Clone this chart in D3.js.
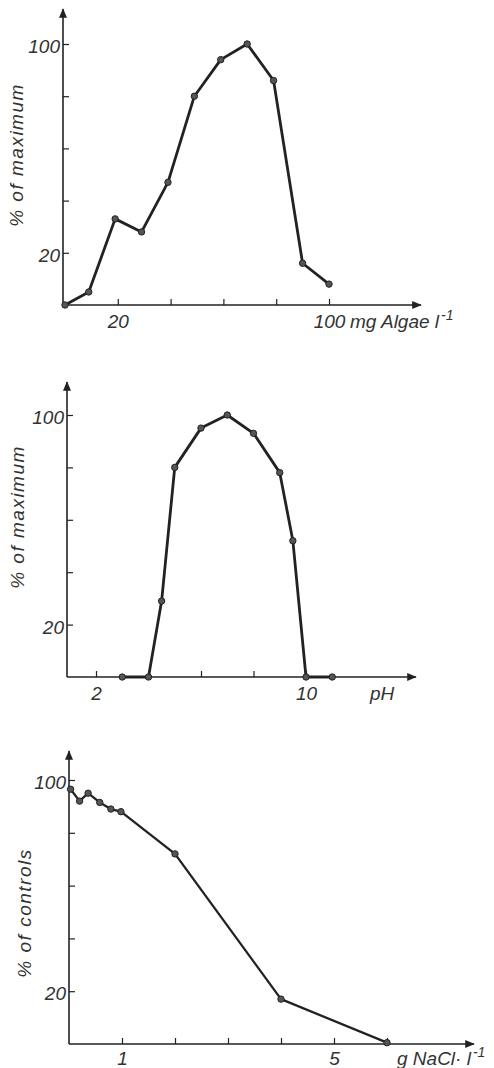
<!DOCTYPE html>
<html>
<head>
<meta charset="utf-8">
<script src="https://cdn.jsdelivr.net/npm/d3@7"></script>
<style>
  body { margin: 0; background: #fff; }
  svg text { font-family: "Liberation Sans", "DejaVu Sans", sans-serif; font-style: italic; fill: #333; }
</style>
</head>
<body>
<svg id="fig" width="494" height="1068"></svg>
<script>
// panel 1: algae concentration
var algaeX = [0, 9, 19, 29, 39, 49, 59, 69, 79, 90, 100];
var algaeY = [0, 5, 33, 28, 47, 80, 94, 100, 86, 16, 8];
var algaeTicks = [20, 40, 60, 80, 100];
var algaeLabels = [20, 100];

// panel 2: pH
var phX = [3, 4, 4.5, 5, 6, 7, 8, 9, 9.5, 10, 11];
var phY = [0, 0, 29, 80, 95, 100, 93, 78, 52, 0, 0];
var phTicks = [2, 4, 6, 8, 10];
var phLabels = [2, 10];

// panel 3: salinity
var naclX = [0.03, 0.2, 0.36, 0.58, 0.79, 0.98, 2, 4, 6];
var naclY = [96.5, 92, 95, 91.5, 89, 88, 72, 17, 0.5];
var naclTicks = [1, 2, 3, 4, 5, 6];
var naclLabels = [1, 5];

var yTicks = [20, 40, 60, 80, 100];
var yLabels = [20, 100];

var svg = d3.select("#fig");
var ink = "#222";
var fs = 19;

svg.append("defs").append("marker")
    .attr("id", "arrow")
    .attr("viewBox", "0 0 12 10")
    .attr("refX", 11).attr("refY", 5)
    .attr("markerWidth", 12).attr("markerHeight", 8)
    .attr("markerUnits", "userSpaceOnUse")
    .attr("orient", "auto")
    .append("path")
    .attr("d", "M0,0L12,5L0,10z")
    .attr("fill", ink);

function panel(cfg) {
    var x = d3.scaleLinear().domain(cfg.xDomain).range(cfg.xRange);
    var y = d3.scaleLinear().domain([0, 100]).range([cfg.y0, cfg.y100]);
    var g = svg.append("g");

    // axes with arrow heads
    g.append("line")
        .attr("x1", cfg.axisX).attr("y1", cfg.y0)
        .attr("x2", cfg.axisX).attr("y2", cfg.yTop)
        .attr("stroke", ink).attr("stroke-width", 1.6)
        .attr("marker-end", "url(#arrow)");
    g.append("line")
        .attr("x1", cfg.axisX).attr("y1", cfg.y0)
        .attr("x2", cfg.xEnd).attr("y2", cfg.y0)
        .attr("stroke", ink).attr("stroke-width", 1.6)
        .attr("marker-end", "url(#arrow)");

    var ax = g.append("g")
        .attr("transform", "translate(0," + cfg.y0 + ")")
        .call(d3.axisBottom(x).tickValues(cfg.xTicks).tickSize(-6).tickPadding(cfg.xPad)
            .tickFormat(function(d) { return cfg.xLabels.indexOf(d) >= 0 ? d : ""; }));
    ax.select(".domain").remove();

    var ay = g.append("g")
        .attr("transform", "translate(" + cfg.axisX + ",0)")
        .call(d3.axisLeft(y).tickValues(yTicks).tickSize(-6).tickPadding(3)
            .tickFormat(function(d) { return yLabels.indexOf(d) >= 0 ? d : ""; }));
    ay.select(".domain").remove();
    ay.selectAll(".tick text").attr("dy", "0.45em");

    g.selectAll(".tick line").attr("stroke", ink).attr("stroke-width", 1.2);
    g.selectAll(".tick text").attr("font-size", fs).attr("font-family", null).attr("fill", null);

    g.append("text")
        .attr("transform", "translate(" + cfg.titleX + "," + cfg.titleY + ") rotate(-90)")
        .attr("text-anchor", "middle")
        .attr("font-size", fs)
        .attr("letter-spacing", 1.5)
        .text(cfg.yTitle);

    var unit = g.append("text")
        .attr("x", cfg.unitX).attr("y", cfg.y0 + cfg.xPad + 13.5)
        .attr("font-size", fs)
        .text(cfg.unit);
    if (cfg.sup) {
        unit.append("tspan").attr("dy", -8).attr("dx", 2).attr("font-size", 14).text(cfg.sup);
    }

    var pts = cfg.xs.map(function(d, i) { return [d, cfg.ys[i]]; });
    g.append("path")
        .datum(pts)
        .attr("fill", "none")
        .attr("stroke", ink)
        .attr("stroke-width", cfg.lw)
        .attr("stroke-linejoin", "round")
        .attr("d", d3.line()
            .x(function(d) { return x(d[0]); })
            .y(function(d) { return y(d[1]); }));

    g.selectAll("circle")
        .data(pts)
        .enter().append("circle")
        .attr("cx", function(d) { return x(d[0]); })
        .attr("cy", function(d) { return y(d[1]); })
        .attr("r", 3.2)
        .attr("fill", "#555")
        .attr("stroke", ink)
        .attr("stroke-width", 1);
}

panel({
    xs: algaeX, ys: algaeY, xDomain: [0, 100], xRange: [65, 329],
    xTicks: algaeTicks, xLabels: algaeLabels, xPad: 9.5,
    axisX: 63, y0: 305, y100: 44, yTop: 9, xEnd: 421,
    titleX: 23, titleY: 155, yTitle: "% of maximum",
    unitX: 350, unit: "mg Algae l", sup: "-1", lw: 2.8
});

panel({
    xs: phX, ys: phY, xDomain: [2, 10], xRange: [96, 306],
    xTicks: phTicks, xLabels: phLabels, xPad: 9.5,
    axisX: 67, y0: 677, y100: 415, yTop: 382, xEnd: 416,
    titleX: 24, titleY: 517, yTitle: "% of maximum",
    unitX: 370, unit: "pH", sup: null, lw: 2.8
});

panel({
    xs: naclX, ys: naclY, xDomain: [0, 6], xRange: [69, 387],
    xTicks: naclTicks, xLabels: naclLabels, xPad: 7.5,
    axisX: 69, y0: 1044, y100: 780, yTop: 751, xEnd: 474,
    titleX: 31, titleY: 913, yTitle: "% of controls",
    unitX: 397, unit: "g NaCl\u00b7 l", sup: "-1", lw: 2.3
});
</script>
</body>
</html>
